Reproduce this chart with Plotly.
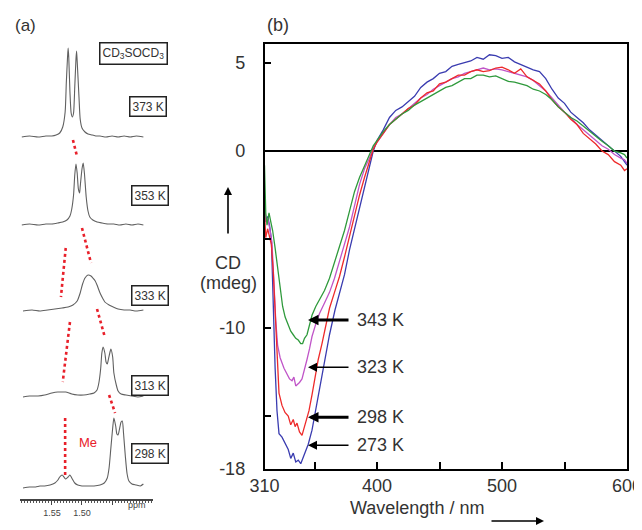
import plotly.graph_objects as go

# page shows the figure offset by the 8px body margin; the figure fills the rest
OFF = 8
W, H = 642 - OFF, 530 - OFF

# ---------------- Panel (b): CD spectra ----------------
wl_273 = [310, 311, 312.5, 314, 315.5, 317, 318.5, 320, 321.6, 324, 326.4, 329, 331, 333, 335, 337, 339, 341, 343, 345, 348, 351, 353.6, 356, 358.4, 362, 366.4, 370, 374, 378, 382, 386, 390, 394, 397,
          400, 405, 410, 415, 420, 425, 430, 435, 440, 445, 450, 455, 460, 465, 470, 475, 480, 485, 490, 495, 500, 505, 510, 515, 520, 525, 530, 535, 540, 545, 550, 555, 560, 565, 570, 575, 580, 585, 590, 595, 598, 600]
cd_273 = [-2.5, -4.0, -3.7, -4.2, -5.0, -9.0, -12.3, -14.7, -16.0, -16.2, -16.5, -16.9, -17.4, -17.1, -17.6, -17.5, -17.7, -17.3, -17.0, -16.6, -15.8, -14.6, -13.7, -12.8, -11.8, -10.4, -9.0, -8.1, -7.0, -5.6, -4.4, -3.2, -2.0, -0.9, 0.0,
          0.6, 1.2, 1.9, 2.3, 2.5, 2.8, 3.1, 3.6, 3.9, 4.1, 4.4, 4.5, 4.8, 4.9, 5.0, 5.1, 5.3, 5.2, 5.45, 5.4, 5.25, 5.3, 5.05, 4.9, 4.75, 4.6, 4.5, 4.1, 3.5, 3.0, 2.7, 2.2, 1.9, 1.6, 1.2, 0.9, 0.6, 0.3, 0.0, -0.3, -0.6, -0.8]

wl_298 = [310, 311, 312.5, 314, 315.5, 317, 318.5, 320, 321.6, 324, 326.4, 329, 331, 333, 334.5, 336, 338, 340, 342, 343.5, 345.6, 348, 350.4, 353, 356, 359, 362, 366, 370, 374, 378, 382, 386, 390, 394, 397,
          400, 405, 410, 415, 420, 425, 430, 435, 440, 445, 450, 455, 460, 465, 470, 475, 480, 485, 490, 495, 500, 505, 510, 515, 520, 525, 530, 535, 540, 545, 550, 555, 560, 565, 570, 575, 580, 585, 590, 595, 598, 600]
cd_298 = [-3.5, -4.9, -4.4, -4.8, -5.3, -6.8, -9.0, -11.5, -13.7, -14.4, -14.8, -15.0, -15.5, -15.2, -15.6, -15.4, -15.9, -16.1, -15.6, -15.3, -14.7, -13.8, -12.8, -11.8, -10.9, -9.9, -8.9, -8.0, -7.1, -6.0, -4.8, -3.6, -2.5, -1.5, -0.6, 0.1,
          0.5, 1.0, 1.5, 1.8, 2.1, 2.4, 2.6, 3.0, 3.3, 3.4, 3.8, 3.9, 4.1, 4.3, 4.3, 4.5, 4.6, 4.5, 4.55, 4.7, 4.75, 4.6, 4.4, 4.65, 4.2, 4.0, 3.8, 3.4, 2.9, 2.5, 2.2, 1.8, 1.5, 1.0, 0.7, 0.4, 0.0, -0.2, -0.6, -0.8, -1.1, -1.0]

wl_323 = [310, 311, 312.5, 314, 316, 317.5, 319, 320.5, 322.5, 325.6, 328, 330, 332, 333.5, 335, 336.5, 338, 340, 342, 344, 346, 348, 351, 354, 358, 362, 366, 370, 374, 378, 382, 386, 390, 394, 397,
          400, 405, 410, 415, 420, 425, 430, 435, 440, 445, 450, 455, 460, 465, 470, 475, 480, 485, 490, 495, 500, 505, 510, 515, 520, 525, 530, 535, 540, 545, 550, 555, 560, 565, 570, 575, 580, 585, 590, 595, 598, 600]
cd_323 = [-3.0, -4.0, -3.8, -4.3, -5.2, -7.5, -9.6, -11.0, -11.7, -12.3, -12.6, -12.9, -13.0, -12.8, -13.3, -13.2, -13.1, -12.9, -12.4, -11.8, -11.2, -10.5, -9.8, -9.2, -8.6, -8.0, -7.2, -6.2, -5.3, -4.3, -3.1, -1.9, -1.0, -0.4, 0.2,
          0.5, 1.0, 1.5, 1.9, 2.1, 2.4, 2.7, 3.0, 3.2, 3.5, 3.7, 3.9, 4.1, 4.2, 4.4, 4.5, 4.6, 4.7, 4.6, 4.65, 4.6, 4.5, 4.4, 4.3, 4.2, 4.0, 3.7, 3.4, 3.0, 2.6, 2.2, 1.9, 1.5, 1.2, 0.9, 0.6, 0.3, 0.1, -0.2, -0.4, -0.5, -0.7]

wl_343 = [310, 311, 312, 313.6, 315, 316.5, 318.5, 320.5, 322.5, 324.5, 326.5, 329, 331, 333, 335, 337, 339, 340.5, 342, 344, 346, 348, 351, 355, 358, 362, 366, 370, 374, 378, 382, 386, 390, 394, 397,
          400, 405, 410, 415, 420, 425, 430, 435, 440, 445, 450, 455, 460, 465, 470, 475, 480, 485, 490, 495, 500, 505, 510, 515, 520, 525, 530, 535, 540, 545, 550, 555, 560, 565, 570, 575, 580, 585, 590, 595, 598, 600]
cd_343 = [-0.8, -3.5, -4.2, -3.5, -4.0, -4.5, -5.5, -6.6, -7.8, -8.8, -9.4, -9.9, -10.2, -10.4, -10.6, -10.7, -10.9, -10.9, -10.6, -10.4, -9.8, -9.3, -8.8, -8.3, -7.9, -7.2, -6.3, -5.5, -4.5, -3.4, -2.3, -1.5, -0.8, -0.2, 0.3,
          0.6, 1.1, 1.5, 1.8, 2.1, 2.3, 2.6, 2.8, 3.0, 3.2, 3.4, 3.6, 3.7, 3.9, 4.1, 4.1, 4.3, 4.3, 4.2, 4.25, 4.1, 3.95, 3.9, 3.8, 3.7, 3.5, 3.4, 3.2, 2.9, 2.5, 2.2, 1.9, 1.7, 1.4, 1.1, 0.85, 0.55, 0.3, 0.0, -0.1, -0.2, -0.4]

cd_series = [
    ("273 K", wl_273, cd_273, "#3a3cb0"),
    ("323 K", wl_323, cd_323, "#c055c8"),
    ("298 K", wl_298, cd_298, "#ee2a2a"),
    ("343 K", wl_343, cd_343, "#2f9a3c"),
]

cd_labels = ["343 K", "323 K", "298 K", "273 K"]
cd_label_levels = [-9.57, -12.24, -15.07, -16.66]
cd_label_head_wl = 344.8
cd_label_text_wl = 382.4
cd_label_thick = [True, False, True, False]

x_ticks_b = [310, 350, 400, 450, 500, 550, 600]
x_ticktext_b = ["310", "", "400", "", "500", "", "600"]
y_ticks_b = [5, 0, -5, -10, -15, -18]
y_ticktext_b = ["5", "0", "", "-10", "", "-18"]

# ---------------- Panel (a): 1H NMR spectra (Me region) ----------------
nmr_temps = ["373 K", "353 K", "333 K", "313 K", "298 K"]

ppm_373 = [1.600, 1.587, 1.573, 1.560, 1.550, 1.543, 1.537, 1.532, 1.528, 1.526, 1.524, 1.523, 1.522, 1.520, 1.518, 1.516, 1.514, 1.512, 1.510, 1.509, 1.508, 1.505, 1.503, 1.500, 1.495, 1.490, 1.483, 1.477, 1.470, 1.460, 1.450, 1.440, 1.430, 1.420, 1.410, 1.398]
int_373 = [0, 1, 0, 1, 1, 2, 4, 10, 25, 55, 80, 89, 80, 45, 24, 20, 24, 50, 78, 86, 76, 40, 18, 9, 5, 3, 2, 1, 1, 0, 1, 0, 1, 0, 1, 0]

ppm_353 = [1.600, 1.587, 1.573, 1.560, 1.550, 1.540, 1.532, 1.525, 1.520, 1.517, 1.514, 1.512, 1.510, 1.508, 1.506, 1.504, 1.503, 1.500, 1.498, 1.496, 1.493, 1.490, 1.487, 1.482, 1.475, 1.467, 1.457, 1.447, 1.437, 1.427, 1.417, 1.407, 1.398]
int_353 = [0, 1, 0, 1, 1, 2, 3, 5, 9, 16, 30, 50, 61, 52, 36, 32, 38, 56, 62, 52, 28, 14, 8, 5, 3, 2, 1, 1, 0, 1, 0, 1, 0]

ppm_333 = [1.598, 1.583, 1.570, 1.557, 1.545, 1.533, 1.523, 1.515, 1.508, 1.503, 1.499, 1.495, 1.490, 1.485, 1.482, 1.478, 1.475, 1.470, 1.465, 1.462, 1.455, 1.448, 1.440, 1.430, 1.420, 1.410, 1.398]
int_333 = [0, 1, 0, 1, 2, 3, 4, 6, 10, 18, 27, 33, 36, 35, 33, 30, 26, 18, 12, 9, 6, 4, 2, 1, 1, 0, 1]

ppm_313 = [1.598, 1.587, 1.573, 1.562, 1.550, 1.540, 1.533, 1.527, 1.517, 1.507, 1.497, 1.487, 1.480, 1.475, 1.472, 1.469, 1.467, 1.465, 1.462, 1.460, 1.458, 1.456, 1.453, 1.452, 1.449, 1.447, 1.443, 1.440, 1.435, 1.427, 1.417, 1.407, 1.398]
int_313 = [0, 1, 1, 2, 4, 5, 5, 5, 3, 2, 2, 3, 4, 7, 14, 28, 44, 50, 44, 35, 33, 38, 46, 48, 40, 24, 12, 6, 3, 2, 1, 0, 1]

ppm_298 = [1.598, 1.587, 1.577, 1.570, 1.562, 1.553, 1.545, 1.540, 1.537, 1.533, 1.530, 1.527, 1.523, 1.520, 1.517, 1.512, 1.507, 1.500, 1.490, 1.480, 1.470, 1.463, 1.458, 1.455, 1.452, 1.449, 1.447, 1.444, 1.442, 1.440, 1.438, 1.435, 1.433, 1.431, 1.428, 1.425, 1.422, 1.417, 1.410, 1.403, 1.398]
int_298 = [0, 1, 1, 2, 2, 3, 5, 8, 11, 13, 11, 9, 11, 13, 10, 5, 3, 2, 2, 2, 3, 5, 10, 20, 40, 60, 70, 62, 54, 53, 58, 66, 67, 55, 32, 14, 7, 4, 3, 2, 4]

nmr_ppm = [ppm_373, ppm_353, ppm_333, ppm_313, ppm_298]
nmr_int = [int_373, int_353, int_333, int_313, int_298]
nmr_offsets = [362, 274, 188, 102, 11]  # stacking offsets (a.u.)

guide_ppm0 = [1.515, 1.500, 1.527, 1.475, 1.520, 1.455, 1.528]
guide_ppm1 = [1.508, 1.485, 1.535, 1.463, 1.532, 1.445, 1.528]
guide_lvl0 = [359, 271, 251, 190, 177, 104, 81]
guide_lvl1 = [342, 236, 202, 164, 117, 86, 24]

x_ticks_a = [1.55, 1.50, 1.45]
x_ticktext_a = ["1.55", "1.50", ""]

# ---------------- figure ----------------
fig = go.Figure()

for name, wl, cd, col in cd_series:
    fig.add_trace(go.Scatter(x=wl, y=cd, mode="lines", name=name,
                             line=dict(color=col, width=1.3), xaxis="x", yaxis="y"))

for ppm, inten, off in zip(nmr_ppm, nmr_int, nmr_offsets):
    fig.add_trace(go.Scatter(x=ppm, y=[v + off for v in inten], mode="lines",
                             line=dict(color="#606060", width=1.1, shape="spline", smoothing=0.6),
                             xaxis="x2", yaxis="y2"))

for p0, p1, l0, l1 in zip(guide_ppm0, guide_ppm1, guide_lvl0, guide_lvl1):
    fig.add_trace(go.Scatter(x=[p0, p1], y=[l0, l1], mode="lines",
                             line=dict(color="#e8202a", width=2.6, dash="dot"),
                             xaxis="x2", yaxis="y2"))

def px(x):
    return (x - OFF) / W

def py(y):
    return 1 - (y - OFF) / H

ann = []
ann.append(dict(text="(a)", x=px(25), y=py(25), xref="paper", yref="paper", showarrow=False,
                font=dict(size=17, color="#333"), xanchor="center", yanchor="middle"))
ann.append(dict(text="(b)", x=px(278), y=py(25), xref="paper", yref="paper", showarrow=False,
                font=dict(size=18, color="#333"), xanchor="center", yanchor="middle"))

box_labels = ["CD<sub>3</sub>SOCD<sub>3</sub>"] + nmr_temps
box_pos = [(133, 53), (147.5, 106.5), (150, 196), (150, 295), (150, 385), (150, 453)]
for t, (bx, by) in zip(box_labels, box_pos):
    ann.append(dict(text=t, x=px(bx), y=py(by), xref="paper", yref="paper", showarrow=False,
                    font=dict(size=12, color="#333"), bordercolor="#222", borderwidth=1.5,
                    borderpad=2, bgcolor="white", xanchor="center", yanchor="middle"))
ann.append(dict(text="Me", x=1.490, y=57, xref="x2", yref="y2", showarrow=False,
                font=dict(size=13, color="#e8202a")))
ann.append(dict(text="ppm", x=1.408, y=py(512), xref="x2", yref="paper", showarrow=False,
                font=dict(size=9, color="#444")))

for lab, lvl, thick in zip(cd_labels, cd_label_levels, cd_label_thick):
    ann.append(dict(text="", x=cd_label_head_wl, y=lvl, xref="x", yref="y",
                    ax=42, ay=0, showarrow=True, arrowhead=2,
                    arrowsize=0.7 if thick else 1.2, arrowwidth=3 if thick else 1.5,
                    arrowcolor="black"))
    ann.append(dict(text=lab, x=cd_label_text_wl, y=lvl, xref="x", yref="y", showarrow=False,
                    xanchor="left", yanchor="middle", font=dict(size=18, color="#333")))

ann.append(dict(text="CD", x=px(228), y=py(263), xref="paper", yref="paper", showarrow=False,
                font=dict(size=18, color="#333")))
ann.append(dict(text="(mdeg)", x=px(228), y=py(283), xref="paper", yref="paper", showarrow=False,
                font=dict(size=18, color="#333")))
ann.append(dict(text="", x=px(228), y=py(187), xref="paper", yref="paper", showarrow=True,
                ax=0, ay=48, arrowhead=2, arrowsize=1, arrowwidth=1.6, arrowcolor="black"))
ann.append(dict(text="Wavelength / nm", x=px(417), y=py(520), xref="paper", yref="paper",
                showarrow=False, font=dict(size=18, color="#333")))
ann.append(dict(text="", x=px(544), y=py(521), xref="paper", yref="paper", showarrow=True,
                ax=-54, ay=0, arrowhead=2, arrowsize=1, arrowwidth=1.6, arrowcolor="black"))

font_family = "Liberation Sans, Arial, sans-serif"
fig.update_layout(
    template="none",
    width=W, height=H, margin=dict(l=0, r=0, t=0, b=0, pad=0, autoexpand=False),
    paper_bgcolor="white", plot_bgcolor="white", showlegend=False,
    font=dict(family=font_family, color="#333"),
    xaxis=dict(domain=[px(264.5), px(627)], range=[310, 600], anchor="y", automargin=False,
               tickmode="array", tickvals=x_ticks_b, ticktext=x_ticktext_b,
               ticks="inside", ticklen=7, tickwidth=1.5, tickcolor="black",
               showline=True, linecolor="black", linewidth=1.5, mirror=True,
               showgrid=False, zeroline=False, tickfont=dict(size=18, color="#333"),
               ticklabeloverflow="allow"),
    yaxis=dict(domain=[py(469), py(44)], range=[-18, 6.06], anchor="x", automargin=False,
               tickmode="array", tickvals=y_ticks_b, ticktext=y_ticktext_b,
               ticks="inside", ticklen=7, tickwidth=1.5, tickcolor="black",
               showline=True, linecolor="black", linewidth=1.5, mirror=True,
               showgrid=False, zeroline=True, zerolinecolor="black", zerolinewidth=1.5,
               tickfont=dict(size=18, color="#333"), ticklabelstandoff=14),
    xaxis2=dict(domain=[px(20), px(153)], range=[1.603, 1.382], anchor="y2", automargin=False,
                tickmode="array", tickvals=x_ticks_a, ticktext=x_ticktext_a,
                ticks="outside", ticklen=4, tickwidth=1, tickcolor="#444",
                minor=dict(dtick=0.005, tick0=1.50, ticks="outside", ticklen=2.5, tickcolor="#555", tickwidth=1),
                showline=True, linecolor="#444", linewidth=1.5,
                showgrid=False, zeroline=False, tickfont=dict(size=9, color="#444")),
    yaxis2=dict(domain=[py(499), 1], range=[0, 499 - OFF], anchor="x2", visible=False, automargin=False),
    annotations=ann,
)

fig.write_html("out.html")
